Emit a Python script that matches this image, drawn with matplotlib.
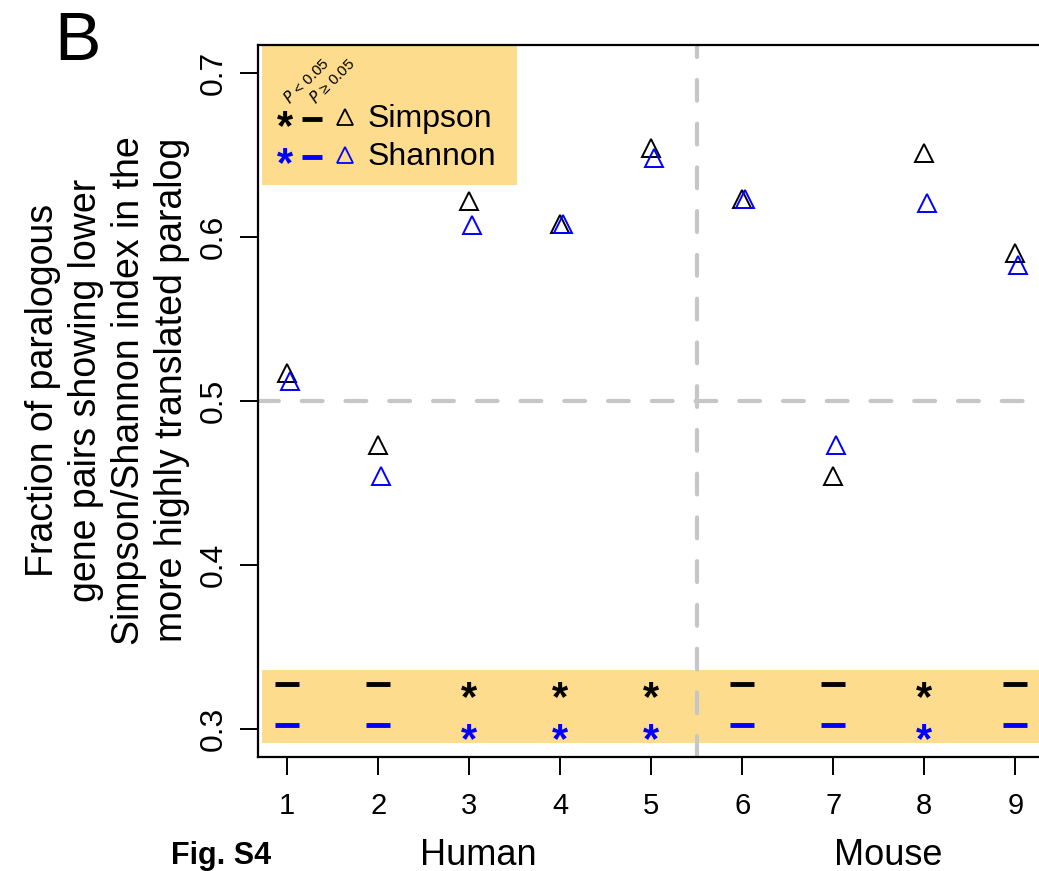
import matplotlib
matplotlib.use("Agg")
import matplotlib.pyplot as plt
import numpy as np
from matplotlib.patches import Rectangle

plt.rcParams['font.family'] = ['Liberation Sans', 'DejaVu Sans']

# fraction of paralog pairs with lower index in the more highly translated copy
datasets = [1, 2, 3, 4, 5, 6, 7, 8, 9]
simpson = [0.517, 0.473, 0.622, 0.608, 0.654, 0.623, 0.454, 0.651, 0.590]
shannon = [0.512, 0.454, 0.607, 0.608, 0.648, 0.623, 0.473, 0.621, 0.583]
# True where P < 0.05
simpson_sig = [False, False, True, True, True, False, False, True, False]
shannon_sig = [False, False, True, True, True, False, False, True, False]
species = ["Human", "Mouse"]
species_x = [3.1, 7.6]

ylabel = ("Fraction of paralogous\ngene pairs showing lower\n"
          "Simpson/Shannon index in the\nmore highly translated paralog")

band = '#FDDC8E'
grey = '#C6C6C6'

fig = plt.figure(figsize=(10.39, 8.71), dpi=100)
ax = fig.add_axes([0.2483, 0.1309, 0.757, 0.8174])
ax.set_xlim(0.68, 9.32)
ax.set_ylim(0.283, 0.717)

# reference lines
ax.axhline(0.5, color=grey, lw=3, ls=(0, (5, 5.5)), dash_capstyle='round', zorder=1)
ax.axvline(5.5, color=grey, lw=3, ls=(0, (5, 5.5)), dash_capstyle='round', zorder=1)

# significance strip
ax.add_patch(Rectangle((0.72, 0.2915), 9.0, 0.0445, color=band, lw=0, zorder=0))
x = np.array(datasets, dtype=float)
for sig_list, row, col in [(simpson_sig, 0.3275, 'black'), (shannon_sig, 0.3025, 'blue')]:
    for xi, s in zip(x, sig_list):
        if s:
            ax.text(xi, row - 0.0095, '*', color=col, fontsize=30, fontweight='bold',
                    ha='center', va='center', zorder=3)
        else:
            ax.plot(xi, row, marker='_', ms=17, mew=3.5, color=col, zorder=3)

# points
ax.plot(x, simpson, ls='none', marker='^', ms=13, mfc='none', mec='black', mew=1.4, zorder=4)
ax.plot(x + 0.03, shannon, ls='none', marker='^', ms=13, mfc='none', mec='blue', mew=1.4, zorder=4)

# legend box
ax.add_patch(Rectangle((0.005, 0.803), 0.324, 0.196, transform=ax.transAxes,
                       color=band, lw=0, zorder=2))
for row_y, col, name in [(0.896, 'black', 'Simpson'), (0.843, 'blue', 'Shannon')]:
    ax.text(0.034, row_y - 0.012, '*', transform=ax.transAxes, color=col, fontsize=30,
            fontweight='bold', ha='center', va='center', zorder=3)
    ax.plot(0.069, row_y, marker='_', ms=14, mew=3.5, color=col, transform=ax.transAxes, zorder=3)
    ax.plot(0.111, row_y + 0.003, marker='^', ms=12, mfc='none', mec=col, mew=1.3,
            transform=ax.transAxes, zorder=3)
    ax.text(0.139, row_y, name, transform=ax.transAxes, fontsize=23, ha='left', va='center', zorder=3)
ax.text(0.061, 0.950, r'$P$ < 0.05', transform=ax.transAxes, fontsize=11, rotation=45,
        ha='center', va='center', zorder=3)
ax.text(0.094, 0.950, r'$P$ ≥ 0.05', transform=ax.transAxes, fontsize=11, rotation=45,
        ha='center', va='center', zorder=3)

# axes styling
for sp in ax.spines.values():
    sp.set_linewidth(1.6)
ax.set_xticks(datasets)
ax.set_yticks([0.3, 0.4, 0.5, 0.6, 0.7])
ax.set_yticklabels(['0.3', '0.4', '0.5', '0.6', '0.7'], rotation=90, va='center')
ax.tick_params(axis='both', direction='out', length=13, width=1.4, labelsize=21)
ax.tick_params(axis='x', pad=12)
ax.tick_params(axis='y', labelsize=23, pad=8)

fig.text(0.1035, 0.552, ylabel, fontsize=27, rotation=90, ha='center', va='center',
         multialignment='center', linespacing=1.25)

for name, sx in zip(species, species_x):
    ax.text(sx, -0.138, name, transform=ax.get_xaxis_transform(), fontsize=26,
            ha='center', va='center')

fig.text(0.2127, 0.017, 'Fig. S4', fontsize=22, fontweight='bold', ha='center', va='center')
fig.text(0.075, 0.952, 'B', fontsize=50, ha='center', va='center')

fig.savefig('out.png', dpi=100)
